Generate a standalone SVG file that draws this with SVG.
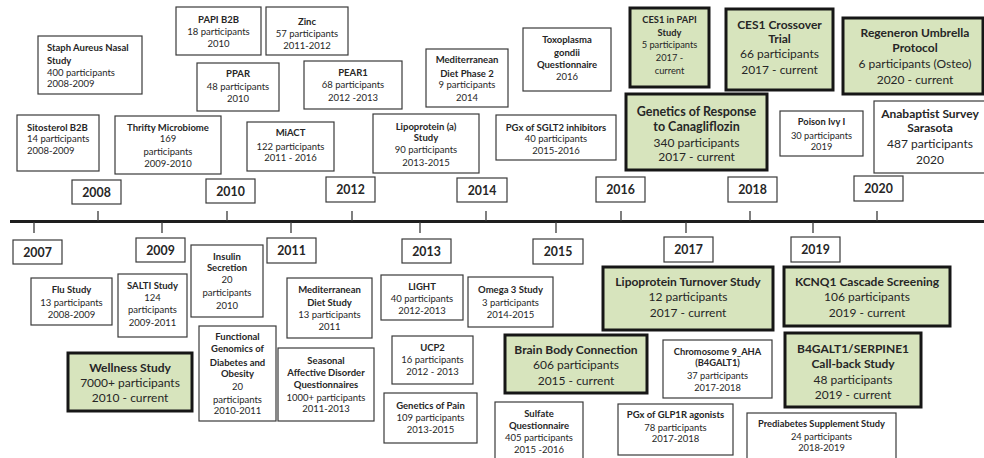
<svg xmlns="http://www.w3.org/2000/svg" width="984" height="458" viewBox="0 0 984 458">
<style>
.bx{fill:#fff;stroke:#3a3a3a;stroke-width:1.2}
.hl{fill:#d7e4bd;stroke:#161616;stroke-width:3}
text{font-family:Lato,"Open Sans","Liberation Sans",sans-serif;fill:#262626;text-anchor:middle}
.s{font-size:9.5px}
.xs{font-size:9.3px}
.m{font-size:12px}
.l{font-size:12px}
.y{font-size:12.3px;font-weight:bold}
.b{font-weight:bold}
.st{text-anchor:start}
.ax{stroke:#1e1e1e;stroke-width:3}
.tk{stroke:#3a3a3a;stroke-width:1.3}
</style>
<g id="connectors">
<line class="ax" x1="10" y1="221.5" x2="984" y2="221.5"/>
<line class="tk" x1="98" y1="211" x2="98" y2="221"/>
<line class="tk" x1="227" y1="211" x2="227" y2="221"/>
<line class="tk" x1="352" y1="211" x2="352" y2="221"/>
<line class="tk" x1="486" y1="211" x2="486" y2="221"/>
<line class="tk" x1="621" y1="211" x2="621" y2="221"/>
<line class="tk" x1="750" y1="211" x2="750" y2="221"/>
<line class="tk" x1="877" y1="211" x2="877" y2="221"/>
<line class="tk" x1="34" y1="222" x2="34" y2="233"/>
<line class="tk" x1="162" y1="222" x2="162" y2="233"/>
<line class="tk" x1="291" y1="222" x2="291" y2="233"/>
<line class="tk" x1="420" y1="222" x2="420" y2="233"/>
<line class="tk" x1="556" y1="222" x2="556" y2="233"/>
<line class="tk" x1="686" y1="222" x2="686" y2="233"/>
<line class="tk" x1="813" y1="222" x2="813" y2="233"/>
</g>
<g id="years">
<g id="y2007"><rect class="bx" x="13" y="240" width="49" height="24"/><text class="y" x="37.5" y="256.5">2007</text></g>
<g id="y2008"><rect class="bx" x="72" y="180" width="49" height="24"/><text class="y" x="96.5" y="196.5">2008</text></g>
<g id="y2009"><rect class="bx" x="136" y="238" width="49" height="24"/><text class="y" x="160.5" y="254.5">2009</text></g>
<g id="y2010"><rect class="bx" x="206" y="179" width="49" height="24"/><text class="y" x="230.5" y="195.5">2010</text></g>
<g id="y2011"><rect class="bx" x="267" y="238" width="49" height="25"/><text class="y" x="291.5" y="255">2011</text></g>
<g id="y2012"><rect class="bx" x="326" y="177" width="49" height="25"/><text class="y" x="350.5" y="194">2012</text></g>
<g id="y2013"><rect class="bx" x="402" y="239" width="49" height="24"/><text class="y" x="426.5" y="255.5">2013</text></g>
<g id="y2014"><rect class="bx" x="457" y="178" width="50" height="24"/><text class="y" x="482" y="194.5">2014</text></g>
<g id="y2015"><rect class="bx" x="533" y="239" width="50" height="25"/><text class="y" x="558" y="256">2015</text></g>
<g id="y2016"><rect class="bx" x="596" y="177" width="49" height="25"/><text class="y" x="620.5" y="194">2016</text></g>
<g id="y2017"><rect class="bx" x="664" y="237" width="49" height="25"/><text class="y" x="688.5" y="254">2017</text></g>
<g id="y2018"><rect class="bx" x="728" y="177" width="49" height="25"/><text class="y" x="752.5" y="194">2018</text></g>
<g id="y2019"><rect class="bx" x="791" y="237" width="49" height="25"/><text class="y" x="815.5" y="254">2019</text></g>
<g id="y2020"><rect class="bx" x="854" y="176" width="49" height="25"/><text class="y" x="878.5" y="193">2020</text></g>
</g>
<g id="staph"><rect class="bx" x="38" y="36" width="104" height="58"/>
<text class="s st b" x="47" y="50.5">Staph Aureus Nasal</text><text class="s st b" x="47" y="63.5">Study</text><text class="s st" x="47" y="75.5">400 participants</text><text class="s st" x="47" y="86.5"> 2008-2009</text></g>
<g id="sitosterol"><rect class="bx" x="17" y="115" width="82" height="56"/>
<text class="s st b" x="27" y="130.5">Sitosterol B2B</text><text class="s st" x="27" y="141.5">14 participants</text><text class="s st" x="27" y="153.5">2008-2009</text></g>
<g id="thrifty"><rect class="bx" x="115" y="116" width="106" height="58"/>
<text class="s b" x="168" y="130.5">Thrifty Microbiome</text><text class="s" x="168" y="141.5">169</text><text class="s" x="168" y="154.5">participants</text><text class="s" x="168" y="166.5">2009-2010</text></g>
<g id="papi"><rect class="bx" x="176" y="7" width="85" height="48"/>
<text class="s b" x="218.5" y="22.5">PAPI B2B</text><text class="s" x="218.5" y="34.5">18 participants</text><text class="s" x="218.5" y="46.5">2010</text></g>
<g id="ppar"><rect class="bx" x="197" y="63" width="82" height="48"/>
<text class="s b" x="238" y="76.5">PPAR</text><text class="s" x="238" y="89.5">48 participants</text><text class="s" x="238" y="101.5">2010</text></g>
<g id="zinc"><rect class="bx" x="266" y="7" width="82" height="48"/>
<text class="s b" x="307" y="24.5">Zinc</text><text class="s" x="307" y="36.5">57 participants</text><text class="s" x="307" y="48.5">2011-2012</text></g>
<g id="pear1"><rect class="bx" x="304" y="61" width="98" height="48"/>
<text class="s b" x="353" y="75.5">PEAR1</text><text class="s" x="353" y="87.5">68 participants</text><text class="s" x="353" y="100.5">2012 -2013</text></g>
<g id="miact"><rect class="bx" x="247" y="122" width="87" height="49"/>
<text class="s b" x="290.5" y="135.5">MiACT</text><text class="s" x="290.5" y="149.5">122 participants</text><text class="s" x="290.5" y="160.5">2011 - 2016</text></g>
<g id="meddiet2"><rect class="bx" x="426" y="49" width="82" height="58"/>
<text class="s b" x="467" y="62.5">Mediterranean</text><text class="s b" x="467" y="76.5">Diet Phase 2</text><text class="s" x="467" y="87.5">9 participants</text><text class="s" x="467" y="100.5">2014</text></g>
<g id="lpa"><rect class="bx" x="373" y="114" width="106" height="59"/>
<text class="s b" x="426" y="129.5">Lipoprotein (a)</text><text class="s b" x="426" y="140.5">Study</text><text class="s" x="426" y="152.5">90 participants</text><text class="s" x="426" y="165.5">2013-2015</text></g>
<g id="toxo"><rect class="bx" x="523" y="28" width="88" height="63"/>
<text class="s b" x="567" y="42.5">Toxoplasma</text><text class="s b" x="567" y="55.5">gondii</text><text class="s b" x="567" y="67.5">Questionnaire</text><text class="s" x="567" y="79.5">2016</text></g>
<g id="sglt2"><rect class="bx" x="496" y="115" width="120" height="45"/>
<text class="s b" x="556" y="130.5">PGx of SGLT2 inhibitors</text><text class="s" x="556" y="141.5">40 participants</text><text class="s" x="556" y="153.5">2015-2016</text></g>
<g id="ces1papi"><rect class="hl" x="630" y="8" width="79" height="79"/>
<text class="xs b" x="669.5" y="23">CES1 in PAPI</text><text class="xs b" x="669.5" y="36">Study</text><text class="xs" x="669.5" y="48">5 participants</text><text class="xs" x="669.5" y="61">2017 -</text><text class="xs" x="669.5" y="74">current</text></g>
<g id="cana"><rect class="hl" x="626" y="94" width="141" height="76"/>
<text class="l b" x="696.5" y="116" style="font-size:12.5px">Genetics of Response</text><text class="l b" x="696.5" y="131" style="font-size:12.5px">to Canagliflozin</text><text class="l" x="696.5" y="147">340 participants</text><text class="l" x="696.5" y="161">2017 - current</text></g>
<g id="ces1x"><rect class="hl" x="726" y="9" width="107" height="81"/>
<text class="m b" x="779.5" y="29">CES1 Crossover</text><text class="m b" x="779.5" y="43">Trial</text><text class="m" x="779.5" y="58">66 participants</text><text class="m" x="779.5" y="74">2017 - current</text></g>
<g id="regeneron"><rect class="hl" x="843" y="18" width="140" height="76"/>
<text class="m b" x="915" y="37">Regeneron Umbrella</text><text class="m b" x="915" y="52">Protocol</text><text class="m" x="915" y="68">6 participants (Osteo)</text><text class="m" x="915" y="84">2020 - current</text></g>
<g id="poison"><rect class="bx" x="780" y="111" width="83" height="45"/>
<text class="xs b" x="821.5" y="125">Poison Ivy I</text><text class="xs" x="821.5" y="139">30 participants</text><text class="xs" x="821.5" y="150">2019</text></g>
<g id="anabaptist"><rect class="bx" x="874" y="101" width="113" height="72"/>
<text class="m b" x="930" y="118">Anabaptist Survey</text><text class="m b" x="930" y="132">Sarasota</text><text class="m" x="930" y="148">487 participants</text><text class="m" x="930" y="164">2020</text></g>
<g id="flu"><rect class="bx" x="31" y="278" width="81" height="47"/>
<text class="s b" x="71.5" y="292.5">Flu Study</text><text class="s" x="71.5" y="305.5">13 participants</text><text class="s" x="71.5" y="317.5">2008-2009</text></g>
<g id="salti"><rect class="bx" x="118" y="274" width="69" height="63"/>
<text class="s b" x="152.5" y="288.5">SALTI Study</text><text class="s" x="152.5" y="300.5">124</text><text class="s" x="152.5" y="312.5">participants</text><text class="s" x="152.5" y="325.5">2009-2011</text></g>
<g id="insulin"><rect class="bx" x="191" y="245" width="72" height="72"/>
<text class="s b" x="227" y="259.5">Insulin</text><text class="s b" x="227" y="270.5">Secretion</text><text class="s" x="227" y="282.5">20</text><text class="s" x="227" y="295.5">participants</text><text class="s" x="227" y="308.5">2010</text></g>
<g id="fgdo"><rect class="bx" x="199" y="326" width="77" height="95"/>
<text class="s b" x="237.5" y="339.5">Functional</text><text class="s b" x="237.5" y="351.5">Genomics of</text><text class="s b" x="237.5" y="365.5">Diabetes and</text><text class="s b" x="237.5" y="376.5">Obesity</text><text class="s" x="237.5" y="389.5">20</text><text class="s" x="237.5" y="402.5">participants</text><text class="s" x="237.5" y="413.5">2010-2011</text></g>
<g id="meddiet"><rect class="bx" x="287" y="278" width="85" height="60"/>
<text class="s b" x="329.5" y="292.5">Mediterranean</text><text class="s b" x="329.5" y="305.5">Diet Study</text><text class="s" x="329.5" y="317.5">13 participants</text><text class="s" x="329.5" y="329.5">2011</text></g>
<g id="sad"><rect class="bx" x="278" y="348" width="96" height="73"/>
<text class="s b" x="326" y="363.5">Seasonal</text><text class="s b" x="326" y="375.5">Affective Disorder</text><text class="s b" x="326" y="387.5">Questionnaires</text><text class="s" x="326" y="400.5">1000+ participants</text><text class="s" x="326" y="411.5">2011-2013</text></g>
<g id="light"><rect class="bx" x="381" y="275" width="82" height="45"/>
<text class="s b" x="422" y="289.5">LIGHT</text><text class="s" x="422" y="301.5">40 participants</text><text class="s" x="422" y="313.5">2012-2013</text></g>
<g id="ucp2"><rect class="bx" x="392" y="336" width="81" height="48"/>
<text class="s b" x="432.5" y="350.5">UCP2</text><text class="s" x="432.5" y="362.5">16 participants</text><text class="s" x="432.5" y="374.5">2012 - 2013</text></g>
<g id="pain"><rect class="bx" x="384" y="393" width="93" height="50"/>
<text class="s b" x="430.5" y="408.5">Genetics of Pain</text><text class="s" x="430.5" y="420.5">109 participants</text><text class="s" x="430.5" y="432.5">2013-2015</text></g>
<g id="omega3"><rect class="bx" x="468" y="277" width="85" height="50"/>
<text class="s b" x="510.5" y="292.5">Omega 3 Study</text><text class="s" x="510.5" y="305.5">3 participants</text><text class="s" x="510.5" y="317.5">2014-2015</text></g>
<g id="lipoturnover"><rect class="hl" x="603" y="267" width="170" height="63"/>
<text class="l b" x="688" y="285.5">Lipoprotein Turnover Study</text><text class="l" x="688" y="300.5">12 participants</text><text class="l" x="688" y="317">2017 - current</text></g>
<g id="kcnq1"><rect class="hl" x="784" y="267" width="166" height="59"/>
<text class="l b" x="867" y="285.5">KCNQ1 Cascade Screening</text><text class="l" x="867" y="300.5">106 participants</text><text class="l" x="867" y="317">2019 - current</text></g>
<g id="brainbody"><rect class="hl" x="505" y="335" width="142" height="58"/>
<text class="l b" x="576" y="353.5">Brain Body Connection</text><text class="l" x="576" y="368.5">606 participants</text><text class="l" x="576" y="384.5">2015 - current</text></g>
<g id="chr9"><rect class="bx" x="663" y="340" width="109" height="58"/>
<text class="xs b" x="717.5" y="355">Chromosome 9_AHA</text><text class="xs b" x="717.5" y="366">(B4GALT1)</text><text class="xs" x="717.5" y="379">37 participants</text><text class="xs" x="717.5" y="391">2017-2018</text></g>
<g id="sulfate"><rect class="bx" x="495" y="402" width="88" height="60"/>
<text class="s b" x="539" y="416.5">Sulfate</text><text class="s b" x="539" y="428.5">Questionnaire</text><text class="s" x="539" y="440.5">405 participants</text><text class="s" x="539" y="452.5">2015 -2016</text></g>
<g id="glp1r"><rect class="bx" x="618" y="404" width="115" height="51"/>
<text class="s b" x="675.5" y="417.5">PGx of GLP1R agonists</text><text class="s" x="675.5" y="430.5">78 participants</text><text class="s" x="675.5" y="441.5">2017-2018</text></g>
<g id="b4galt1"><rect class="hl" x="785" y="333" width="136" height="74"/>
<text class="m b" x="853" y="353">B4GALT1/SERPINE1</text><text class="m b" x="853" y="368">Call-back Study</text><text class="m" x="853" y="384">48 participants</text><text class="m" x="853" y="399">2019 - current</text></g>
<g id="prediabetes"><rect class="bx" x="747" y="413" width="149" height="50"/>
<text class="xs b" x="821.5" y="427">Prediabetes Supplement Study</text><text class="xs" x="821.5" y="440">24 participants</text><text class="xs" x="821.5" y="451">2018-2019</text></g>
<g id="wellness"><rect class="hl" x="68" y="353" width="124" height="58"/>
<text class="l b" x="130" y="372">Wellness Study</text><text class="l" x="130" y="387">7000+ participants</text><text class="l" x="130" y="402">2010 - current</text></g>
</svg>
